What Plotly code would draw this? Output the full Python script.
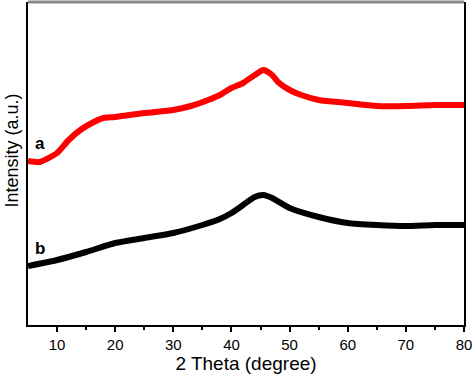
import plotly.graph_objects as go

# 2θ positions (degree) and intensities (a.u.)
theta_a = [5, 7, 10, 12, 14, 16, 18, 20, 25, 30, 33, 36, 38, 40, 42, 44, 45.5, 47, 48, 50, 52, 55, 60, 65, 70, 75, 80]
intensity_a = [164, 163, 172, 185, 195, 202, 207, 208, 212, 215, 219, 225, 230, 237, 242, 250, 255, 250, 243, 235, 230, 225, 222, 219, 219, 220, 220]

theta_b = [5, 10, 15, 20, 25, 30, 35, 38, 40, 42, 44, 45.5, 47, 50, 55, 60, 65, 70, 75, 80]
intensity_b = [59, 65, 73, 82, 87, 92, 100, 106, 112, 120, 128, 130, 127, 117, 108, 102, 100, 99, 100, 100]

x_ticks = [10, 20, 30, 40, 50, 60, 70, 80]
x_minor_ticks = [15, 25, 35, 45, 55, 65, 75]
series_labels = ["a", "b"]

FONT = "Arial, Liberation Sans, sans-serif"

fig = go.Figure()
fig.add_trace(go.Scatter(x=theta_a, y=intensity_a, mode="lines",
                         line=dict(color="#ff0000", width=6, shape="spline", smoothing=0.6),
                         showlegend=False, hoverinfo="skip"))
fig.add_trace(go.Scatter(x=theta_b, y=intensity_b, mode="lines",
                         line=dict(color="#000000", width=6, shape="spline", smoothing=0.6),
                         showlegend=False, hoverinfo="skip"))

fig.add_annotation(x=7.0, y=182, text="<b>%s</b>" % series_labels[0], showarrow=False,
                   font=dict(family=FONT, size=17, color="black"))
fig.add_annotation(x=7.1, y=77, text="<b>%s</b>" % series_labels[1], showarrow=False,
                   font=dict(family=FONT, size=17, color="black"))

# y-axis title
fig.add_annotation(xref="paper", yref="paper", x=-0.037, y=0.54, xanchor="center",
                   yanchor="middle", text="Intensity (a.u.)", textangle=-90,
                   showarrow=False, font=dict(family=FONT, size=18, color="black"))

# gray top border
fig.add_shape(type="line", xref="paper", yref="paper", x0=0, x1=1, y0=1, y1=1,
              line=dict(color="#888888", width=3))

fig.update_layout(
    width=474, height=380,
    margin=dict(l=28, r=10, t=2, b=55),
    plot_bgcolor="white", paper_bgcolor="white",
    font=dict(family=FONT, size=15, color="black"),
    xaxis=dict(range=[5, 80], tickvals=x_ticks, ticks="outside", ticklen=5,
               tickwidth=1.5, tickcolor="black", showline=True, linecolor="black",
               linewidth=2, showgrid=False, zeroline=False, automargin=False,
               minor=dict(tickvals=x_minor_ticks, ticks="outside",
                          ticklen=3, tickcolor="black", tickwidth=1.5),
               title=dict(text="2 Theta (degree)", font=dict(size=19), standoff=2),
               tickfont=dict(size=15)),
    yaxis=dict(range=[0, 323], showticklabels=False, ticks="", showline=True,
               linecolor="black", linewidth=2, mirror=True, showgrid=False,
               zeroline=False, automargin=False),
)

fig.write_html("out.html", config={"displayModeBar": False},
               post_script="document.body.style.margin='0';document.body.style.overflow='hidden';")
